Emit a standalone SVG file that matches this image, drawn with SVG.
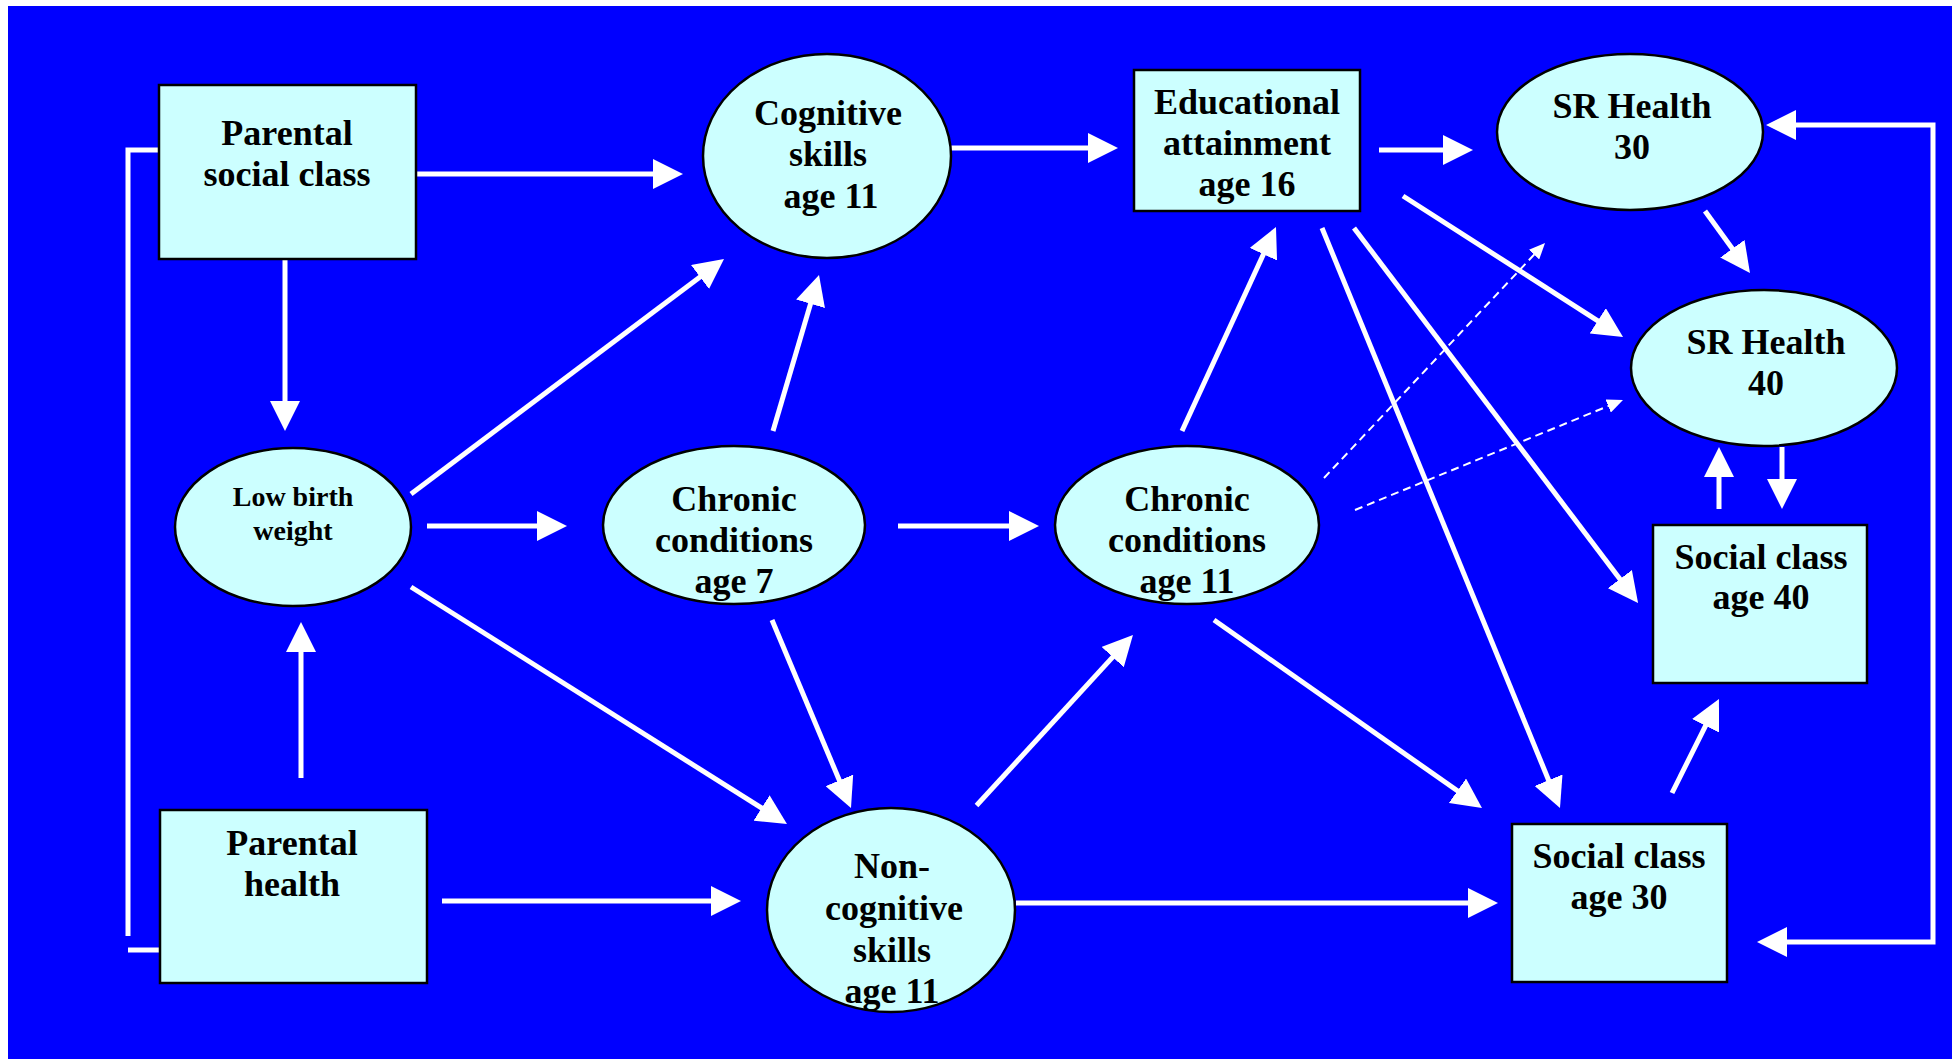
<svg xmlns="http://www.w3.org/2000/svg" width="1958" height="1059" viewBox="0 0 1958 1059">
<defs>
<marker id="ah" markerUnits="userSpaceOnUse" markerWidth="30" markerHeight="30" refX="20" refY="15" orient="auto-start-reverse" viewBox="0 0 30 30">
<path d="M0,0 L30,15 L0,30 Z" fill="#ffffff"/>
</marker>
<marker id="ahs" markerUnits="userSpaceOnUse" markerWidth="16" markerHeight="14" refX="12" refY="7" orient="auto" viewBox="0 0 16 14">
<path d="M0,0 L16,7 L0,14 Z" fill="#ffffff"/>
</marker>
<style>
.node{fill:#ccffff;stroke:#000000;stroke-width:2.5}
.t{font-family:"Liberation Serif","Times New Roman",serif;font-weight:bold;font-size:36px;fill:#000000;text-anchor:middle}
.ts{font-size:28px}
.c{stroke:#ffffff;stroke-width:5;fill:none}
.a{marker-end:url(#ah)}
.d{stroke:#ffffff;stroke-width:2;fill:none;stroke-dasharray:8 5;marker-end:url(#ahs)}
</style>
</defs>
<rect x="0" y="0" width="1958" height="1059" fill="#ffffff"/>
<rect x="8" y="6" width="1944" height="1053" fill="#0000ff"/>

<g id="connectors">
<line class="c a" x1="416" y1="174" x2="673" y2="174"/>
<line class="c a" x1="285" y1="259" x2="285" y2="421"/>
<line class="c a" x1="411" y1="494" x2="716" y2="265"/>
<line class="c a" x1="773" y1="431" x2="816.2" y2="284.6"/>
<line class="c a" x1="427" y1="526" x2="557" y2="526"/>
<line class="c a" x1="898" y1="526" x2="1029" y2="526"/>
<line class="c a" x1="411" y1="587" x2="778.5" y2="818.7"/>
<line class="c a" x1="772" y1="620" x2="847.1" y2="798.8"/>
<line class="c a" x1="301" y1="778" x2="301" y2="632"/>
<line class="c a" x1="442" y1="901" x2="731" y2="901"/>
<path class="c" d="M160,150 H128 V936"/>
<line class="c" x1="128" y1="950" x2="160" y2="950"/>
<line class="c a" x1="930" y1="148" x2="1108" y2="148"/>
<line class="c a" x1="1379" y1="150" x2="1463" y2="150"/>
<line class="c a" x1="1182" y1="431" x2="1271.8" y2="236.1"/>
<line class="c a" x1="1403" y1="196" x2="1614.6" y2="331.6"/>
<line class="c a" x1="1322" y1="228" x2="1556.2" y2="798.7"/>
<line class="c a" x1="1354" y1="228" x2="1632" y2="595"/>
<line class="c a" x1="1705" y1="211" x2="1744.1" y2="264.9"/>
<line class="c a" x1="1719" y1="509" x2="1719" y2="457"/>
<line class="c a" x1="1782" y1="447" x2="1782" y2="499"/>
<line class="c a" x1="1672" y1="793" x2="1714.5" y2="707.9"/>
<line class="c a" x1="1214" y1="620" x2="1473.8" y2="802.3"/>
<line class="c a" x1="976.5" y1="805.5" x2="1126.2" y2="642.4"/>
<line class="c a" x1="1016" y1="903" x2="1488" y2="903"/>
<path class="c" d="M1776,125 H1933 V942 H1767" marker-start="url(#ah)" marker-end="url(#ah)"/>
<line class="d" x1="1324" y1="478" x2="1542.3" y2="245.9"/>
<line class="d" x1="1355" y1="510" x2="1619.3" y2="401.5"/>
</g>

<g id="parental-social-class">
<rect class="node" x="159" y="85" width="257" height="174"/>
<text class="t" x="287" y="145">Parental</text>
<text class="t" x="287" y="186">social class</text>
</g>
<g id="cognitive-skills">
<ellipse class="node" cx="827" cy="156" rx="124" ry="102"/>
<text class="t" x="828" y="125">Cognitive</text>
<text class="t" x="828" y="166">skills</text>
<text class="t" x="831" y="208">age 11</text>
</g>
<g id="educational-attainment">
<rect class="node" x="1134" y="70" width="226" height="141"/>
<text class="t" x="1247" y="114">Educational</text>
<text class="t" x="1247" y="155">attainment</text>
<text class="t" x="1247" y="196">age 16</text>
</g>
<g id="sr-health-30">
<ellipse class="node" cx="1630" cy="132" rx="133" ry="78"/>
<text class="t" x="1632" y="118">SR Health</text>
<text class="t" x="1632" y="159">30</text>
</g>
<g id="sr-health-40">
<ellipse class="node" cx="1764" cy="368" rx="133" ry="78"/>
<text class="t" x="1766" y="354">SR Health</text>
<text class="t" x="1766" y="395">40</text>
</g>
<g id="low-birth-weight">
<ellipse class="node" cx="293" cy="527" rx="118" ry="79"/>
<text class="t ts" x="293" y="506">Low birth</text>
<text class="t ts" x="293" y="540">weight</text>
</g>
<g id="chronic-conditions-7">
<ellipse class="node" cx="734" cy="525" rx="131" ry="79"/>
<text class="t" x="734" y="511">Chronic</text>
<text class="t" x="734" y="552">conditions</text>
<text class="t" x="734" y="593">age 7</text>
</g>
<g id="chronic-conditions-11">
<ellipse class="node" cx="1187" cy="525" rx="132" ry="79"/>
<text class="t" x="1187" y="511">Chronic</text>
<text class="t" x="1187" y="552">conditions</text>
<text class="t" x="1187" y="593">age 11</text>
</g>
<g id="parental-health">
<rect class="node" x="160" y="810" width="267" height="173"/>
<text class="t" x="292" y="855">Parental</text>
<text class="t" x="292" y="896">health</text>
</g>
<g id="non-cognitive-skills">
<ellipse class="node" cx="891" cy="910" rx="124" ry="102"/>
<text class="t" x="892" y="878">Non-</text>
<text class="t" x="894" y="920">cognitive</text>
<text class="t" x="892" y="962">skills</text>
<text class="t" x="892" y="1003">age 11</text>
</g>
<g id="social-class-40">
<rect class="node" x="1653" y="525" width="214" height="158"/>
<text class="t" x="1761" y="569">Social class</text>
<text class="t" x="1761" y="609">age 40</text>
</g>
<g id="social-class-30">
<rect class="node" x="1512" y="824" width="215" height="158"/>
<text class="t" x="1619" y="868">Social class</text>
<text class="t" x="1619" y="909">age 30</text>
</g>
</svg>
